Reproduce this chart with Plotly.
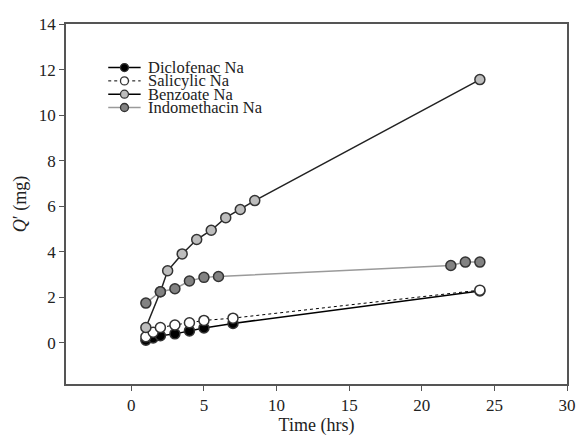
import plotly.graph_objects as go

# ---- data ----
dic_t = [1, 1.5, 2, 3, 4, 5, 7, 24]
dic_q = [0.12, 0.22, 0.32, 0.40, 0.53, 0.66, 0.86, 2.28]

sal_t = [1, 1.5, 2, 3, 4, 5, 7, 24]
sal_q = [0.27, 0.47, 0.68, 0.79, 0.89, 0.99, 1.09, 2.32]

ben_t = [1, 2, 2.5, 3.5, 4.5, 5.5, 6.5, 7.5, 8.5, 24]
ben_q = [0.68, 2.25, 3.17, 3.91, 4.54, 4.95, 5.50, 5.86, 6.25, 11.56]

ind_t = [1, 2, 3, 4, 5, 6, 22, 23, 24]
ind_q = [1.75, 2.25, 2.38, 2.72, 2.88, 2.92, 3.40, 3.55, 3.55]

series_names = ["Diclofenac Na", "Salicylic Na", "Benzoate Na", "Indomethacin Na"]
x_ticks = [0, 5, 10, 15, 20, 25, 30]
y_ticks = [0, 2, 4, 6, 8, 10, 12, 14]

FONT = "Liberation Serif"
AX = "#555555"

styles = [
    dict(fill="black", line="black", dash="solid", lw=1.5),
    dict(fill="white", line="black", dash="dot", lw=1.0),
    dict(fill="#bdbdbd", line="#222222", dash="solid", lw=1.5),
    dict(fill="#828282", line="#9a9a9a", dash="solid", lw=1.5),
]

fig = go.Figure()
for name, t, q, s in zip(series_names, [dic_t, sal_t, ben_t, ind_t],
                         [dic_q, sal_q, ben_q, ind_q], styles):
    fig.add_trace(go.Scatter(
        x=t, y=q, mode="lines+markers", name=name, showlegend=False,
        line=dict(color=s["line"], width=s["lw"], dash=s["dash"]),
        marker=dict(symbol="circle", size=10, color=s["fill"],
                    line=dict(color="#333333", width=1.5)),
    ))

# ---- manual compact legend ----
row_y = [0.879, 0.842, 0.805, 0.768]
lx0, lx1, lxc, ltx = 0.0843, 0.149, 0.1167, 0.160
shapes = []
annotations = []
for name, s, yy in zip(series_names, styles, row_y):
    shapes.append(dict(type="line", xref="paper", yref="paper",
                       x0=lx0, x1=lx1, y0=yy, y1=yy,
                       line=dict(color=s["line"] if s["line"] == "#9a9a9a" else "black",
                                 width=s["lw"], dash=s["dash"])))
    shapes.append(dict(type="circle", xref="paper", yref="paper",
                       xsizemode="pixel", ysizemode="pixel",
                       xanchor=lxc, yanchor=yy, x0=-4, x1=4, y0=-4, y1=4,
                       fillcolor=s["fill"], line=dict(color="#333333", width=1.3)))
    annotations.append(dict(text=name, xref="paper", yref="paper", x=ltx, y=yy,
                            xanchor="left", yanchor="middle", showarrow=False,
                            font=dict(family=FONT, size=16.5, color="#222222")))

fig.update_layout(
    width=588, height=440,
    margin=dict(l=66, r=12, t=24, b=51),
    paper_bgcolor="white", plot_bgcolor="white",
    font=dict(family=FONT, size=17, color="#222222"),
    shapes=shapes, annotations=annotations,
    showlegend=False,
)
fig.update_xaxes(
    range=[-4.5, 30], tickvals=x_ticks, ticks="outside", ticklen=5,
    tickcolor=AX, linecolor=AX, linewidth=1.5, mirror=True, showgrid=False,
    zeroline=False, title=dict(text="Time (hrs)", standoff=0,
                               font=dict(family=FONT, size=18)),
    tickfont=dict(family=FONT, size=17),
)
fig.update_yaxes(
    range=[-1.8, 14], tickvals=y_ticks, ticks="outside", ticklen=5,
    tickcolor=AX, linecolor=AX, linewidth=1.5, mirror=True, showgrid=False,
    zeroline=False, title=dict(text="<i>Q</i>′ (mg)", standoff=8,
                               font=dict(family=FONT, size=18)),
    tickfont=dict(family=FONT, size=17),
)

fig.write_html("out.html")
